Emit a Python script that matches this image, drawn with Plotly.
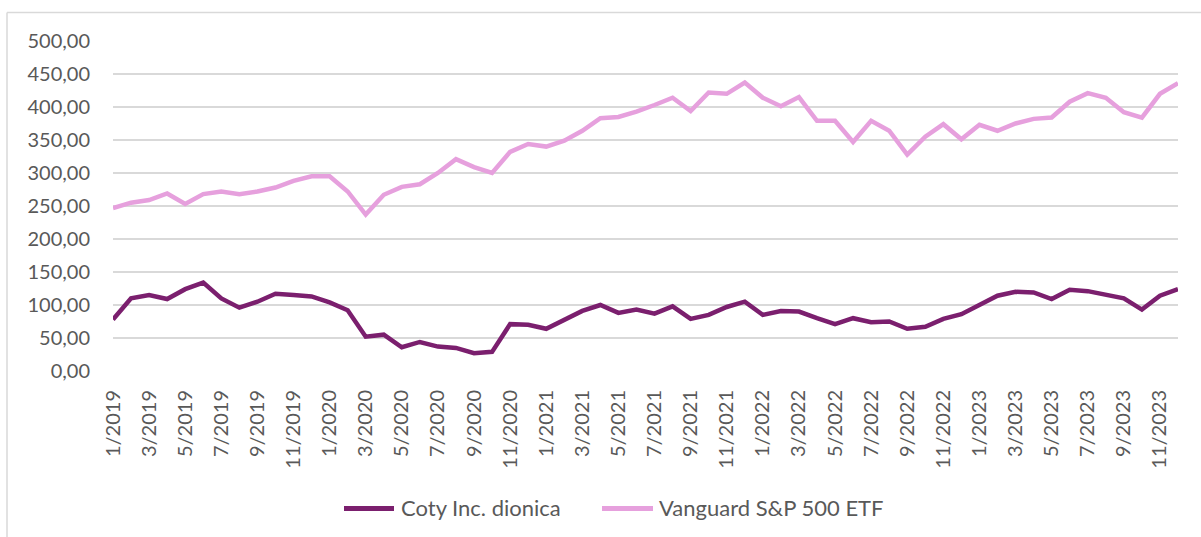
import plotly.graph_objects as go

months = [f"{m}/{y}" for y in range(2019, 2024) for m in range(1, 13)]

coty = [78, 110, 115, 109, 124, 134, 110, 96, 105, 117, 115, 113,
        104, 92, 52, 55, 36, 44, 37, 35, 27, 29, 71, 70,
        64, 77, 91, 100, 88, 93, 87, 98, 79, 85, 97, 105,
        85, 91, 90, 80, 71, 80, 74, 75, 64, 67, 79, 86,
        100, 114, 120, 119, 109, 123, 121, 116, 110, 93, 114, 124]

vanguard = [247, 255, 259, 269, 253, 268, 272, 268, 272, 278, 288, 295,
            295, 272, 237, 267, 279, 283, 300, 321, 309, 300, 332, 344,
            340, 349, 364, 383, 385, 393, 403, 414, 394, 422, 420, 437,
            414, 401, 415, 379, 379, 347, 379, 364, 328, 355, 374, 351,
            373, 364, 375, 382, 384, 408, 421, 414, 392, 384, 420, 436]

series_names = ["Coty Inc. dionica", "Vanguard S&P 500 ETF"]
series_colors = ["#7b1f6e", "#e6a0dd"]

tick_labels = [m for m in months if int(m.split("/")[0]) % 2 == 1]
y_ticks = [0, 50, 100, 150, 200, 250, 300, 350, 400, 450, 500]

FONT = "Lato"
GRAY = "#595959"

fig = go.Figure()
for name, vals, col in zip(series_names, [coty, vanguard], series_colors):
    fig.add_trace(go.Scatter(x=months, y=vals, mode="lines", name=name,
                             line=dict(color=col, width=4.5), showlegend=False))

L, R, T, B = 113, 23, 41, 166
W, H = 1201, 537
pw, ph = W - L - R, H - T - B


def px(xp):
    return (xp - L) / pw


def py(yp):
    return (ph + T - yp) / ph


bx = px(7)
by = py(12.5)

shapes = [
    dict(type="line", xref="paper", yref="paper", x0=bx, x1=bx, y0=py(540), y1=by,
         line=dict(color="#d9d9d9", width=1.5)),
    dict(type="line", xref="paper", yref="paper", x0=bx, x1=px(1205), y0=by, y1=by,
         line=dict(color="#d9d9d9", width=1.5)),
]
annotations = []
legend_pos = [(344, 394, 399), (602, 653, 657)]
for (x0, x1, xt), name, col in zip(legend_pos, series_names, series_colors):
    shapes.append(dict(type="line", xref="paper", yref="paper", x0=px(x0), x1=px(x1),
                       y0=py(508.5), y1=py(508.5), line=dict(color=col, width=5)))
    annotations.append(dict(xref="paper", yref="paper", x=px(xt), y=py(508), text=name,
                            showarrow=False, xanchor="left", yanchor="middle",
                            font=dict(family=FONT, size=22, color=GRAY)))

fig.update_layout(
    width=W, height=H,
    margin=dict(l=L, r=R, t=T, b=B, autoexpand=False),
    paper_bgcolor="white", plot_bgcolor="white",
    font=dict(family=FONT, size=20, color=GRAY),
    showlegend=False,
    xaxis=dict(type="category", categoryorder="array", categoryarray=months,
               tickmode="array", tickvals=tick_labels, ticktext=tick_labels,
               tickangle=-90, showgrid=False, showline=False, zeroline=False,
               ticks="", ticklabelstandoff=14, automargin=False,
               tickfont=dict(family=FONT, size=20, color=GRAY)),
    yaxis=dict(range=[0, 500], tickmode="array", tickvals=y_ticks,
               ticktext=[f"{v},00" for v in y_ticks],
               showgrid=True, gridcolor="#d9d9d9", gridwidth=1.5,
               zeroline=False, showline=False, ticks="", ticklabelstandoff=22,
               automargin=False,
               tickfont=dict(family=FONT, size=20, color=GRAY)),
    shapes=shapes,
    annotations=annotations,
)

fig.write_html("out.html", config={"displayModeBar": False},
               post_script="document.body.style.margin='0';document.body.style.overflow='hidden';")
